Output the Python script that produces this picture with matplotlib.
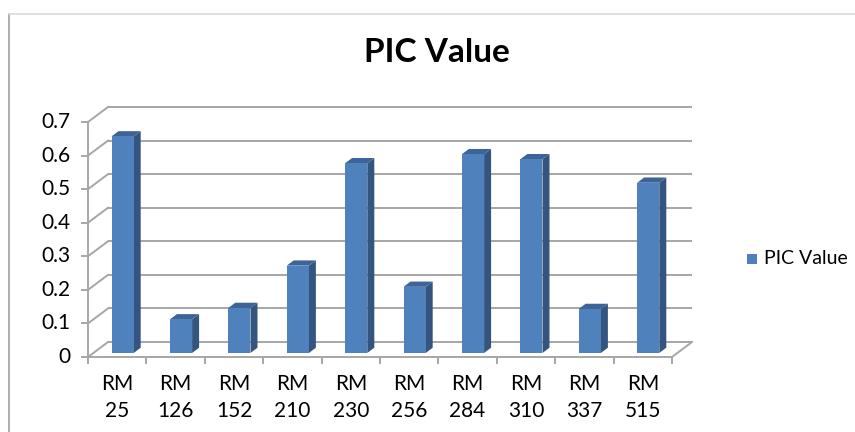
import numpy as np
import matplotlib.pyplot as plt
from matplotlib.patches import Polygon
from matplotlib.lines import Line2D

plt.rcParams['font.family'] = ['Lato', 'DejaVu Sans']

# Data
markers = ['RM\n25', 'RM\n126', 'RM\n152', 'RM\n210', 'RM\n230',
           'RM\n256', 'RM\n284', 'RM\n310', 'RM\n337', 'RM\n515']
pic_values = [0.645, 0.100, 0.134, 0.260, 0.565, 0.197, 0.592, 0.577, 0.131, 0.507]
y_ticks = [0, 0.1, 0.2, 0.3, 0.4, 0.5, 0.6, 0.7]
y_tick_labels = ['0', '0.1', '0.2', '0.3', '0.4', '0.5', '0.6', '0.7']

# Colours
front_col = '#4F81BD'
side_col = '#34557F'
top_col = '#3D6398'
grid_col = '#A6A6A6'

W, H = 855, 432
fig = plt.figure(figsize=(W / 100, H / 100), dpi=100)
# front frame of the plot area (pixels from left / bottom)
ax = fig.add_axes([88 / W, 75 / H, 584 / W, 235 / H])
n = len(pic_values)
ax.set_xlim(0, n)
ax.set_ylim(0, 0.7)
ax.axis('off')

# fake 3D depth offsets in data units
DX = 20 / 58.4
DY = 0.7 * 15 / 235
f0, f1 = 0.27, 0.62   # front / back of the bars as fraction of depth
bar_w = 0.38

# back wall gridlines and left wall diagonals
for t, lab in zip(y_ticks, y_tick_labels):
    ax.plot([DX, n + DX], [t + DY, t + DY], color=grid_col, lw=1.4,
            clip_on=False, zorder=1, solid_capstyle='butt')
    ax.plot([0, DX], [t, t + DY], color=grid_col, lw=1.4, clip_on=False, zorder=1)
    # tick mark
    ax.plot([-0.1, 0], [t, t], color=grid_col, lw=1.4, clip_on=False, zorder=1)
    ax.text(-0.3, t, lab, ha='right', va='center', fontsize=15, color='#000000')

# front y axis, floor
ax.plot([0, 0], [0, 0.7], color=grid_col, lw=1.4, clip_on=False, zorder=1)
ax.plot([0, n], [0, 0], color=grid_col, lw=1.4, clip_on=False, zorder=1)
ax.plot([n, n + DX], [0, DY], color=grid_col, lw=1.4, clip_on=False, zorder=1)
for i in range(n + 1):
    ax.plot([i, i], [0, -0.018], color=grid_col, lw=1.4, clip_on=False, zorder=1)

# bars
sdx = (f1 - f0) * DX
for i, v in enumerate(pic_values):
    xc = i + 0.5 + f0 * DX
    x0, x1 = xc - bar_w / 2, xc + bar_w / 2
    b0, b1 = f0 * DY, f1 * DY
    front = Polygon([(x0, b0), (x1, b0), (x1, v + b0), (x0, v + b0)],
                    closed=True, fc=front_col, ec='none', zorder=3, clip_on=False)
    side = Polygon([(x1, b0), (x1 + sdx, b1), (x1 + sdx, v + b1), (x1, v + b0)],
                   closed=True, fc=side_col, ec='none', zorder=3, clip_on=False)
    top = Polygon([(x0, v + b0), (x1, v + b0), (x1 + sdx, v + b1), (x0 + sdx, v + b1)],
                  closed=True, fc=top_col, ec='none', zorder=3, clip_on=False)
    for p in (side, top, front):
        ax.add_patch(p)
    ax.text(i + 0.5, -0.05, markers[i], ha='center', va='top', fontsize=15,
            linespacing=1.45, color='#000000')

# title
fig.text(437 / W, 1 - 52 / H, 'PIC Value', ha='center', va='center',
         fontsize=24, fontweight='bold', color='#000000')

# legend
fig.patches.append(plt.Rectangle((747 / W, 1 - 264 / H), 10 / W, 10 / H,
                                 transform=fig.transFigure, fc=front_col, ec='none'))
fig.text(764 / W, 1 - 259 / H, 'PIC Value', ha='left', va='center', fontsize=14)

# chart border
fig.add_artist(Line2D([8.5 / W, 8.5 / W], [0, 1 - 14 / H], color='#A0A0A0', lw=1.2))
fig.add_artist(Line2D([8.5 / W, 1], [1 - 14 / H, 1 - 14 / H], color='#D9D9D9', lw=1.2))

fig.savefig('out.png', dpi=100)
